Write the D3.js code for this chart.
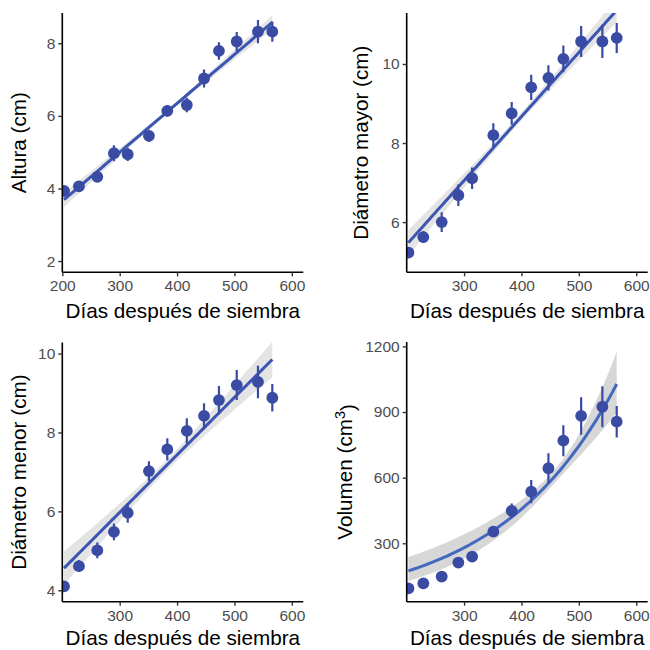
<!DOCTYPE html>
<html>
<head>
<meta charset="utf-8">
<script src="https://cdn.jsdelivr.net/npm/d3@7"></script>
<style>
  html, body { margin: 0; padding: 0; background: #fff; }
  svg { display: block; }
  text { font-family: "Liberation Sans", Arial, sans-serif; }
</style>
</head>
<body>
<svg id="chart" width="650" height="650"></svg>
<script>
// ---- data ----
const days = [203, 229, 261, 290, 314, 351, 383, 417, 447, 473, 504, 541, 566];

const altura      = [3.93, 4.06, 4.32, 4.97, 4.94, 5.45, 6.14, 6.30, 7.03, 7.79, 8.05, 8.32, 8.32];
const alturaErr   = [0.10, 0.10, 0.10, 0.22, 0.18, 0.17, 0.16, 0.20, 0.25, 0.24, 0.26, 0.32, 0.28];

const diamMayor    = [5.23, 5.62, 6.00, 6.68, 7.11, 8.20, 8.75, 9.41, 9.65, 10.13, 10.57, 10.57, 10.66];
const diamMayorErr = [0.10, 0.15, 0.25, 0.27, 0.27, 0.30, 0.29, 0.32, 0.32, 0.34, 0.39, 0.42, 0.38];

const diamMenor    = [4.10, 4.61, 5.01, 5.48, 5.96, 7.02, 7.57, 8.04, 8.42, 8.82, 9.20, 9.28, 8.88];
const diamMenorErr = [0.10, 0.15, 0.20, 0.21, 0.25, 0.25, 0.28, 0.32, 0.32, 0.36, 0.38, 0.41, 0.35];

const volumen    = [94, 117, 148, 212, 239, 353, 448, 536, 643, 769, 882, 924, 856];
const volumenErr = [8, 10, 12, 15, 15, 20, 34, 53, 69, 71, 86, 94, 72];

// fitted smooth: value at first and last day
const alturaFit    = [3.69, 8.58];
const diamMayorFit = [5.48, 11.36];
const diamMenorFit = [4.56, 9.85];
const volumenFit   = [174, 1028];

// confidence band half-widths: [at first day, narrowest, at last day]
const alturaBand    = [0.20, 0.06, 0.20];
const diamMayorBand = [0.32, 0.10, 0.30];
const diamMenorBand = [0.42, 0.14, 0.45];
const volumenBand   = [0.31, 0.05, 0.135];   // on log scale

const xTicksFirst = [200, 300, 400, 500, 600];
const xTicksOther = [300, 400, 500, 600];
const alturaTicks    = [2, 4, 6, 8];
const diamMayorTicks = [6, 8, 10];
const diamMenorTicks = [4, 6, 8, 10];
const volumenTicks   = [300, 600, 900, 1200];

const xTitle = "Días después de siembra";

// ---- drawing ----
const svg = d3.select("#chart");
const pointColor = "#3A4BA4";
const lineColor = "#3B55B2";

const panels = [
  { x0: 62.3, x1: 303.3, y0: 13, y1: 272.3, yDom: [1.69, 8.835], xTicks: xTicksFirst, yTicks: alturaTicks,
    vals: altura, err: alturaErr, fit: alturaFit, band: alturaBand, log: false, title: "Altura (cm)", titleX: 26, xTitleDy: 46 },
  { x0: 406.7, x1: 647.7, y0: 13, y1: 272.3, yDom: [4.73, 11.29], xTicks: xTicksOther, yTicks: diamMayorTicks,
    vals: diamMayor, err: diamMayorErr, fit: diamMayorFit, band: diamMayorBand, log: false, title: "Diámetro mayor (cm)", titleX: 368, xTitleDy: 46 },
  { x0: 62.3, x1: 303.3, y0: 342.5, y1: 601.7, yDom: [3.71, 10.28], xTicks: xTicksOther, yTicks: diamMenorTicks,
    vals: diamMenor, err: diamMenorErr, fit: diamMenorFit, band: diamMenorBand, log: false, title: "Diámetro menor (cm)", titleX: 25.5, xTitleDy: 43.3 },
  { x0: 406.7, x1: 647.7, y0: 342, y1: 601.7, yDom: [33, 1220], xTicks: xTicksOther, yTicks: volumenTicks,
    vals: volumen, err: volumenErr, fit: volumenFit, band: volumenBand, log: true, title: "Volumen (cm", sup: "3", titleTail: ")", titleX: 352, xTitleDy: 43.3 }
];

panels.forEach((p, i) => {
  const x = d3.scaleLinear().domain([200, 620]).range([p.x0, p.x1]);
  const y = d3.scaleLinear().domain(p.yDom).range([p.y1, p.y0]);

  const clipId = "clip" + i;
  svg.append("clipPath").attr("id", clipId)
    .append("rect").attr("x", p.x0).attr("y", p.y0).attr("width", p.x1 - p.x0).attr("height", p.y1 - p.y0);

  const g = svg.append("g").attr("clip-path", `url(#${clipId})`);

  // smooth + band
  const xs = days[0], xe = days[days.length - 1];
  const [hs, h0, he] = p.band;
  const r = Math.sqrt((hs * hs - h0 * h0) / (he * he - h0 * h0));
  const xc = (xs + r * xe) / (1 + r);
  const k = Math.sqrt(he * he - h0 * h0) / (xe - xc);
  const half = d => Math.sqrt(h0 * h0 + k * k * (d - xc) * (d - xc));
  const t = d => (d - xs) / (xe - xs);
  const fitAt = p.log
    ? d => Math.log(p.fit[0]) + t(d) * (Math.log(p.fit[1]) - Math.log(p.fit[0]))
    : d => p.fit[0] + t(d) * (p.fit[1] - p.fit[0]);
  const tr = p.log ? Math.exp : (v => v);

  const grid = d3.range(0, 101).map(j => xs + (xe - xs) * j / 100);
  const bandData = grid.map(d => ({ d, lo: tr(fitAt(d) - half(d)), hi: tr(fitAt(d) + half(d)), m: tr(fitAt(d)) }));

  g.append("path").datum(bandData)
    .attr("d", d3.area().x(o => x(o.d)).y0(o => y(o.lo)).y1(o => y(o.hi)))
    .attr("fill", "#BEBEBE").attr("opacity", p.log ? 0.62 : 0.42);

  g.append("path").datum(bandData)
    .attr("d", d3.line().x(o => x(o.d)).y(o => y(o.m)))
    .attr("fill", "none").attr("stroke", p.log ? "#4269C0" : lineColor).attr("stroke-width", 3);

  // error bars
  const pts = days.map((d, j) => ({ d, v: p.vals[j], e: p.err[j] }));
  g.selectAll(".eb").data(pts).enter().append("line")
    .attr("x1", o => x(o.d)).attr("x2", o => x(o.d))
    .attr("y1", o => y(o.v - o.e)).attr("y2", o => y(o.v + o.e))
    .attr("stroke", pointColor).attr("stroke-width", 2.2);

  g.selectAll(".pt").data(pts).enter().append("circle")
    .attr("cx", o => x(o.d)).attr("cy", o => y(o.v)).attr("r", 5.9)
    .attr("fill", pointColor);

  // axes
  const xAxis = svg.append("g").attr("transform", `translate(0,${p.y1})`)
    .call(d3.axisBottom(x).tickValues(p.xTicks).tickSize(4).tickPadding(4).tickFormat(d3.format("d")));
  const yAxis = svg.append("g").attr("transform", `translate(${p.x0},0)`)
    .call(d3.axisLeft(y).tickValues(p.yTicks).tickSize(4).tickPadding(3).tickFormat(d3.format("d")));
  [xAxis, yAxis].forEach(a => {
    a.select(".domain").attr("stroke", "#000").attr("stroke-width", 1.6);
    a.selectAll(".tick line").attr("stroke", "#333").attr("stroke-width", 1.4);
    a.selectAll(".tick text").attr("fill", "#4D4D4D").style("font-size", "15.5px")
      .style("font-family", '"Liberation Sans", Arial, sans-serif');
  });
  xAxis.select(".domain").attr("d", `M${p.x0},0H${p.x1}`);
  yAxis.select(".domain").attr("d", `M0,${p.y0}V${p.y1}`);

  // titles
  svg.append("text")
    .attr("x", (p.x0 + p.x1) / 2).attr("y", p.y1 + p.xTitleDy)
    .attr("text-anchor", "middle").style("font-size", "20.7px").attr("fill", "#000")
    .text(xTitle);

  const yt = svg.append("text")
    .attr("transform", `translate(${p.titleX},${(p.y0 + p.y1) / 2}) rotate(-90)`)
    .attr("text-anchor", "middle").style("font-size", "20.7px").attr("fill", "#000");
  if (p.sup) {
    yt.append("tspan").text(p.title);
    yt.append("tspan").attr("dy", "-0.45em").style("font-size", "14.5px").text(p.sup);
    yt.append("tspan").attr("dy", "0.45em").text(p.titleTail);
  } else {
    yt.text(p.title);
  }
});
</script>
</body>
</html>
